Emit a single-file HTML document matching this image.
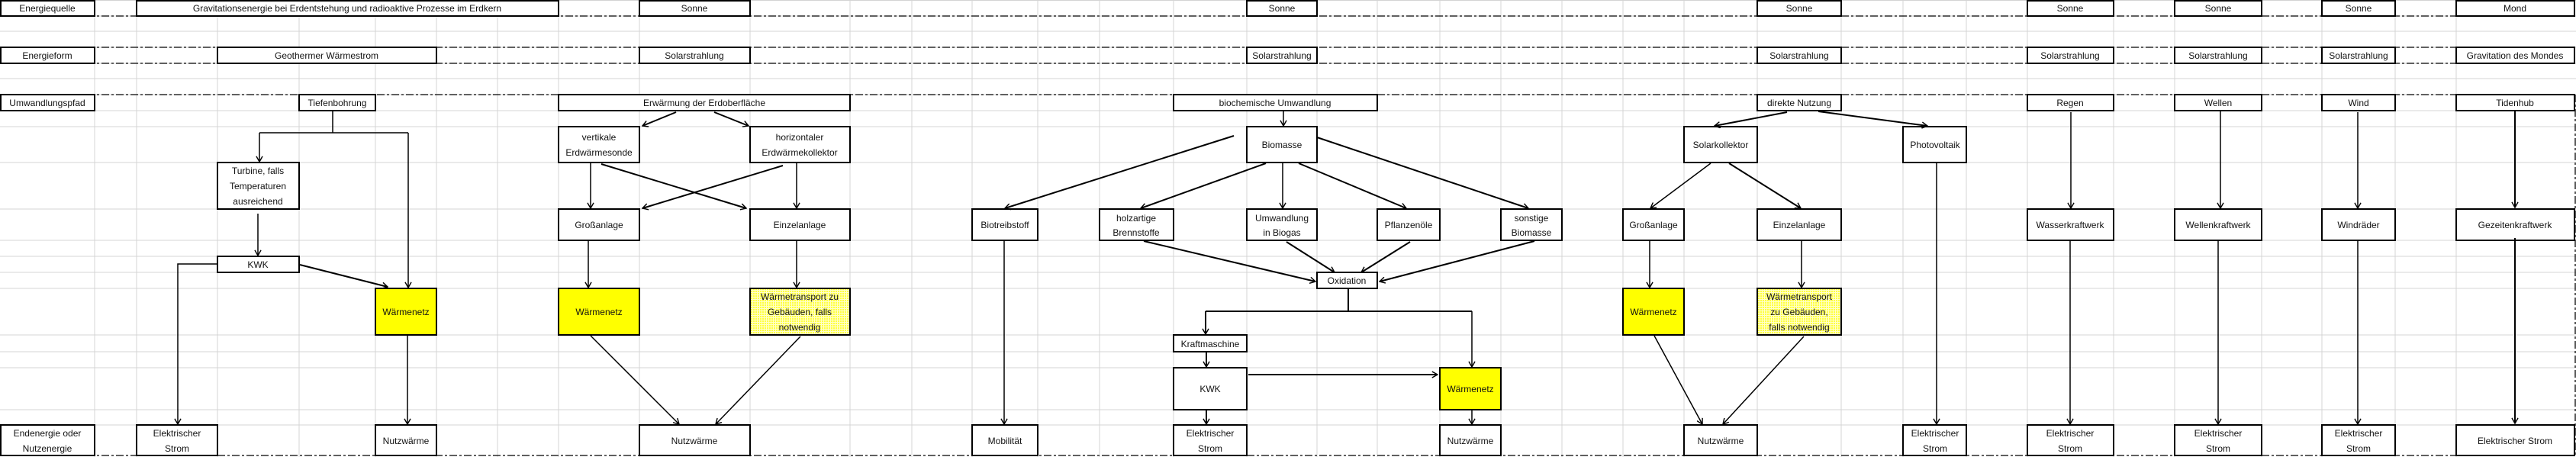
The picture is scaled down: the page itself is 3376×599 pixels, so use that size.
<!DOCTYPE html>
<html><head><meta charset="utf-8"><style>
html,body{margin:0;padding:0;background:#fff}
svg{display:block}
text{font-family:"Liberation Sans",sans-serif;font-size:12px;fill:#111;text-anchor:middle;dominant-baseline:central}
</style></head><body>
<svg width="3376" height="599" viewBox="0 0 3376 599" xmlns="http://www.w3.org/2000/svg">
<defs>
<marker id="a" viewBox="0 0 10 10" refX="9" refY="5" markerWidth="9" markerHeight="9" markerUnits="userSpaceOnUse" orient="auto">
<polyline points="1,0.5 9,5 1,9.5" fill="none" stroke="#000" stroke-width="1.6"/>
</marker>
<pattern id="h" width="3" height="3" patternUnits="userSpaceOnUse">
<rect width="3" height="3" fill="#ffff40"/><rect x="2" width="1" height="3" fill="#ffffc8"/><rect y="2" width="3" height="1" fill="#ffffc8"/>
</pattern>
</defs>
<g stroke="#d4d4d4" stroke-width="1">
<path d="M0 0.5H3376 M0 21H3376 M0 41H3376 M0 62H3376 M0 83H3376 M0 103H3376 M0 124H3376 M0 145H3376 M0 166H3376 M0 213H3376 M0 274H3376 M0 315H3376 M0 336H3376 M0 357H3376 M0 378H3376 M0 439H3376 M0 461H3376 M0 482H3376 M0 537H3376 M0 557H3376"/>
<path d="M124 0V599 M179 0V599 M285 0V599 M392 0V599 M492 0V599 M572 0V599 M652 0V599 M732 0V599 M838 0V599 M983 0V599 M1114 0V599 M1195 0V599 M1274 0V599 M1360 0V599 M1441 0V599 M1538 0V599 M1634 0V599 M1726 0V599 M1805 0V599 M1887 0V599 M1967 0V599 M2047 0V599 M2127 0V599 M2207 0V599 M2303 0V599 M2413 0V599 M2494 0V599 M2577 0V599 M2657 0V599 M2770 0V599 M2850 0V599 M2964 0V599 M3043 0V599 M3139 0V599 M3219 0V599"/>
</g>
<g stroke="#000" stroke-width="1.3" stroke-dasharray="10 3 3 3" fill="none">
<path d="M0 21H3376 M0 62H3376 M0 83H3376 M0 124H3376 M0 597H3376"/>
<path d="M3375 124V597"/>
</g>
<g stroke="#000" stroke-width="2" fill="#fff">
<rect x="1" y="1" width="123" height="20"/>
<rect x="179" y="1" width="553" height="20"/>
<rect x="838" y="1" width="145" height="20"/>
<rect x="1634" y="1" width="92" height="20"/>
<rect x="2303" y="1" width="110" height="20"/>
<rect x="2657" y="1" width="113" height="20"/>
<rect x="2850" y="1" width="114" height="20"/>
<rect x="3043" y="1" width="96" height="20"/>
<rect x="3219" y="1" width="155" height="20"/>
<rect x="1" y="62" width="123" height="21"/>
<rect x="285" y="62" width="287" height="21"/>
<rect x="838" y="62" width="145" height="21"/>
<rect x="1634" y="62" width="92" height="21"/>
<rect x="2303" y="62" width="110" height="21"/>
<rect x="2657" y="62" width="113" height="21"/>
<rect x="2850" y="62" width="114" height="21"/>
<rect x="3043" y="62" width="96" height="21"/>
<rect x="3219" y="62" width="155" height="21"/>
<rect x="1" y="124" width="123" height="21"/>
<rect x="392" y="124" width="100" height="21"/>
<rect x="732" y="124" width="382" height="21"/>
<rect x="1538" y="124" width="267" height="21"/>
<rect x="2303" y="124" width="110" height="21"/>
<rect x="2657" y="124" width="113" height="21"/>
<rect x="2850" y="124" width="114" height="21"/>
<rect x="3043" y="124" width="96" height="21"/>
<rect x="3219" y="124" width="155" height="21"/>
<rect x="732" y="166" width="106" height="47"/>
<rect x="983" y="166" width="131" height="47"/>
<rect x="1634" y="166" width="92" height="47"/>
<rect x="2207" y="166" width="96" height="47"/>
<rect x="2494" y="166" width="83" height="47"/>
<rect x="285" y="213" width="107" height="61"/>
<rect x="732" y="274" width="106" height="41"/>
<rect x="983" y="274" width="131" height="41"/>
<rect x="1274" y="274" width="86" height="41"/>
<rect x="1441" y="274" width="97" height="41"/>
<rect x="1634" y="274" width="92" height="41"/>
<rect x="1805" y="274" width="82" height="41"/>
<rect x="1967" y="274" width="80" height="41"/>
<rect x="2127" y="274" width="80" height="41"/>
<rect x="2303" y="274" width="110" height="41"/>
<rect x="2657" y="274" width="113" height="41"/>
<rect x="2850" y="274" width="114" height="41"/>
<rect x="3043" y="274" width="96" height="41"/>
<rect x="3219" y="274" width="155" height="41"/>
<rect x="285" y="336" width="107" height="21"/>
<rect x="1726" y="357" width="79" height="21"/>
<rect x="492" y="378" width="80" height="61" fill="#ffff00"/>
<rect x="732" y="378" width="106" height="61" fill="#ffff00"/>
<rect x="983" y="378" width="131" height="61" fill="url(#h)"/>
<rect x="2127" y="378" width="80" height="61" fill="#ffff00"/>
<rect x="2303" y="378" width="110" height="61" fill="url(#h)"/>
<rect x="1538" y="439" width="96" height="22"/>
<rect x="1538" y="482" width="96" height="55"/>
<rect x="1887" y="482" width="80" height="55" fill="#ffff00"/>
<rect x="1" y="557" width="123" height="40"/>
<rect x="179" y="557" width="106" height="40"/>
<rect x="492" y="557" width="80" height="40"/>
<rect x="838" y="557" width="145" height="40"/>
<rect x="1274" y="557" width="86" height="40"/>
<rect x="1538" y="557" width="96" height="40"/>
<rect x="1887" y="557" width="80" height="40"/>
<rect x="2207" y="557" width="96" height="40"/>
<rect x="2494" y="557" width="83" height="40"/>
<rect x="2657" y="557" width="113" height="40"/>
<rect x="2850" y="557" width="114" height="40"/>
<rect x="3043" y="557" width="96" height="40"/>
<rect x="3219" y="557" width="155" height="40"/>
</g>
<g stroke="#000" stroke-width="1.5" fill="none">
<path d="M436 145V174 M340 174H535"/>
<path d="M340 174V212" marker-end="url(#a)"/>
<path d="M535 174V377" marker-end="url(#a)"/>
<path d="M338 280V335" marker-end="url(#a)"/>
<path d="M285 346H233V556" marker-end="url(#a)"/>
<path d="M393 347L508 376" stroke-width="2" marker-end="url(#a)"/>
<path d="M534 439V556" marker-end="url(#a)"/>
<path d="M886 147L842 165" stroke-width="2" marker-end="url(#a)"/>
<path d="M936 147L981 165" stroke-width="2" marker-end="url(#a)"/>
<path d="M774 213V273" marker-end="url(#a)"/>
<path d="M788 215L978 273" stroke-width="2" marker-end="url(#a)"/>
<path d="M1026 217L842 273" stroke-width="2" marker-end="url(#a)"/>
<path d="M1044 213V273" marker-end="url(#a)"/>
<path d="M771 315V377" marker-end="url(#a)"/>
<path d="M1044 315V377" marker-end="url(#a)"/>
<path d="M774 440L890 556" marker-end="url(#a)"/>
<path d="M1049 441L938 556" marker-end="url(#a)"/>
<path d="M1682 145V165" marker-end="url(#a)"/>
<path d="M1617 178L1317 273" stroke-width="2" marker-end="url(#a)"/>
<path d="M1659 214L1495 273" stroke-width="2" marker-end="url(#a)"/>
<path d="M1681 214V273" marker-end="url(#a)"/>
<path d="M1702 214L1843 273" stroke-width="2" marker-end="url(#a)"/>
<path d="M1726 180L2003 273" stroke-width="2" marker-end="url(#a)"/>
<path d="M1316 315V556" marker-end="url(#a)"/>
<path d="M1499 316L1724 369" stroke-width="2" marker-end="url(#a)"/>
<path d="M1686 317L1749 357" stroke-width="2" marker-end="url(#a)"/>
<path d="M1848 317L1784 357" stroke-width="2" marker-end="url(#a)"/>
<path d="M2011 316L1808 369" stroke-width="2" marker-end="url(#a)"/>
<path d="M1767 378V408 M1580 408H1929" stroke-width="2"/>
<path d="M1580 408V438" stroke-width="2" marker-end="url(#a)"/>
<path d="M1929 408V481" marker-end="url(#a)"/>
<path d="M1581 461V481" stroke-width="2" marker-end="url(#a)"/>
<path d="M1636 491H1884" stroke-width="2" marker-end="url(#a)"/>
<path d="M1581 538V556" stroke-width="2" marker-end="url(#a)"/>
<path d="M1929 538V556" marker-end="url(#a)"/>
<path d="M2342 147L2247 165" stroke-width="2" marker-end="url(#a)"/>
<path d="M2383 146L2526 165" stroke-width="2" marker-end="url(#a)"/>
<path d="M2242 214L2163 273" marker-end="url(#a)"/>
<path d="M2266 214L2360 273" stroke-width="2" marker-end="url(#a)"/>
<path d="M2162 315V377" marker-end="url(#a)"/>
<path d="M2168 440L2231 556" marker-end="url(#a)"/>
<path d="M2361 315V377" marker-end="url(#a)"/>
<path d="M2364 441L2258 556" marker-end="url(#a)"/>
<path d="M2538 213V556" marker-end="url(#a)"/>
<path d="M2714 147V273" marker-end="url(#a)"/>
<path d="M2713 315V556" marker-end="url(#a)"/>
<path d="M2910 145V273" marker-end="url(#a)"/>
<path d="M2907 315V556" marker-end="url(#a)"/>
<path d="M3090 147V273" marker-end="url(#a)"/>
<path d="M3090 315V556" marker-end="url(#a)"/>
<path d="M3296 145V272" stroke-width="2" marker-end="url(#a)"/>
<path d="M3296 312V555" stroke-width="2" marker-end="url(#a)"/>
</g>
<g>
<text x="62" y="11">Energiequelle</text>
<text x="455" y="11">Gravitationsenergie bei Erdentstehung und radioaktive Prozesse im Erdkern</text>
<text x="910" y="11">Sonne</text>
<text x="1680" y="11">Sonne</text>
<text x="2358" y="11">Sonne</text>
<text x="2713" y="11">Sonne</text>
<text x="2907" y="11">Sonne</text>
<text x="3091" y="11">Sonne</text>
<text x="3296" y="11">Mond</text>
<text x="62" y="73">Energieform</text>
<text x="428" y="73">Geothermer Wärmestrom</text>
<text x="910" y="73">Solarstrahlung</text>
<text x="1680" y="73">Solarstrahlung</text>
<text x="2358" y="73">Solarstrahlung</text>
<text x="2713" y="73">Solarstrahlung</text>
<text x="2907" y="73">Solarstrahlung</text>
<text x="3091" y="73">Solarstrahlung</text>
<text x="3296" y="73">Gravitation des Mondes</text>
<text x="62" y="135">Umwandlungspfad</text>
<text x="442" y="135">Tiefenbohrung</text>
<text x="923" y="135">Erwärmung der Erdoberfläche</text>
<text x="1671" y="135">biochemische Umwandlung</text>
<text x="2358" y="135">direkte Nutzung</text>
<text x="2713" y="135">Regen</text>
<text x="2907" y="135">Wellen</text>
<text x="3091" y="135">Wind</text>
<text x="3296" y="135">Tidenhub</text>
<text x="785" y="180">vertikale</text><text x="785" y="200">Erdwärmesonde</text>
<text x="1048" y="180">horizontaler</text><text x="1048" y="200">Erdwärmekollektor</text>
<text x="1680" y="190">Biomasse</text>
<text x="2255" y="190">Solarkollektor</text>
<text x="2536" y="190">Photovoltaik</text>
<text x="338" y="224">Turbine, falls</text><text x="338" y="244">Temperaturen</text><text x="338" y="264">ausreichend</text>
<text x="785" y="295">Großanlage</text>
<text x="1048" y="295">Einzelanlage</text>
<text x="1317" y="295">Biotreibstoff</text>
<text x="1489" y="286">holzartige</text><text x="1489" y="305">Brennstoffe</text>
<text x="1680" y="286">Umwandlung</text><text x="1680" y="305">in Biogas</text>
<text x="1846" y="295">Pflanzenöle</text>
<text x="2007" y="286">sonstige</text><text x="2007" y="305">Biomasse</text>
<text x="2167" y="295">Großanlage</text>
<text x="2358" y="295">Einzelanlage</text>
<text x="2713" y="295">Wasserkraftwerk</text>
<text x="2907" y="295">Wellenkraftwerk</text>
<text x="3091" y="295">Windräder</text>
<text x="3296" y="295">Gezeitenkraftwerk</text>
<text x="338" y="347">KWK</text>
<text x="1765" y="368">Oxidation</text>
<text x="532" y="409">Wärmenetz</text>
<text x="785" y="409">Wärmenetz</text>
<text x="1048" y="389">Wärmetransport zu</text><text x="1048" y="409">Gebäuden, falls</text><text x="1048" y="429">notwendig</text>
<text x="2167" y="409">Wärmenetz</text>
<text x="2358" y="389">Wärmetransport</text><text x="2358" y="409">zu Gebäuden,</text><text x="2358" y="429">falls notwendig</text>
<text x="1586" y="451">Kraftmaschine</text>
<text x="1586" y="510">KWK</text>
<text x="1927" y="510">Wärmenetz</text>
<text x="62" y="568">Endenergie oder</text><text x="62" y="588">Nutzenergie</text>
<text x="232" y="568">Elektrischer</text><text x="232" y="588">Strom</text>
<text x="532" y="578">Nutzwärme</text>
<text x="910" y="578">Nutzwärme</text>
<text x="1317" y="578">Mobilität</text>
<text x="1586" y="568">Elektrischer</text><text x="1586" y="588">Strom</text>
<text x="1927" y="578">Nutzwärme</text>
<text x="2255" y="578">Nutzwärme</text>
<text x="2536" y="568">Elektrischer</text><text x="2536" y="588">Strom</text>
<text x="2713" y="568">Elektrischer</text><text x="2713" y="588">Strom</text>
<text x="2907" y="568">Elektrischer</text><text x="2907" y="588">Strom</text>
<text x="3091" y="568">Elektrischer</text><text x="3091" y="588">Strom</text>
<text x="3296" y="578">Elektrischer Strom</text>
</g>
</svg>
</body></html>
